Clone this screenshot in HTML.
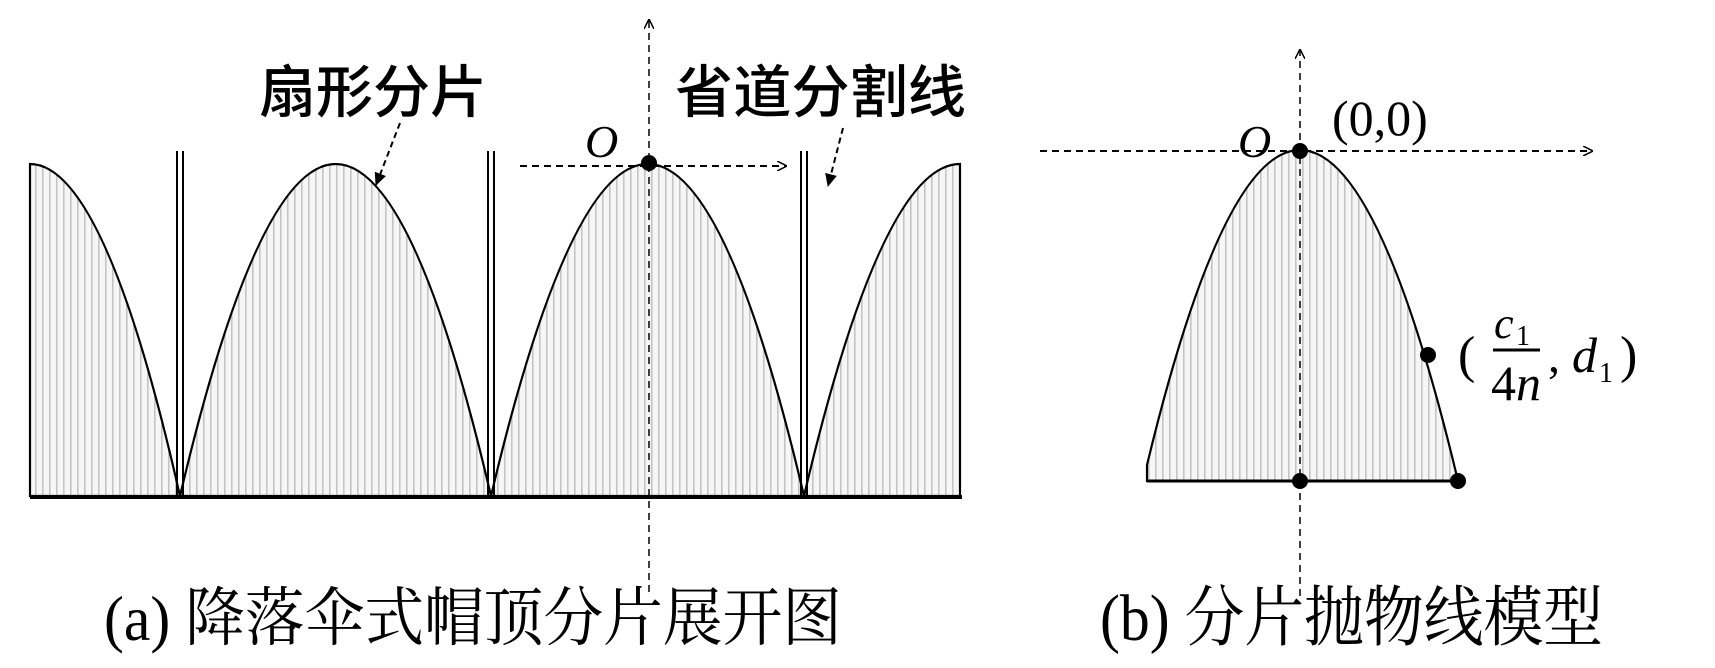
<!DOCTYPE html>
<html><head><meta charset="utf-8"><style>html,body{margin:0;padding:0;background:#fff}svg{display:block}</style></head>
<body>
<svg width="1715" height="668" viewBox="0 0 1715 668" xmlns="http://www.w3.org/2000/svg">
<defs>
<pattern id="h" width="7" height="10" patternUnits="userSpaceOnUse">
<rect width="7" height="10" fill="#f6f6f6"/>
<rect x="0" width="1.6" height="10" fill="#c4c4c4"/>
</pattern>
<marker id="ar" markerWidth="10" markerHeight="10" refX="9" refY="5" orient="auto" markerUnits="userSpaceOnUse"><path d="M0,0 L10,5 L0,10" fill="none" stroke="#000" stroke-width="1.5"/></marker>
<marker id="af" markerWidth="14" markerHeight="14" refX="12" refY="7" orient="auto" markerUnits="userSpaceOnUse"><path d="M0,1 L13,7 L0,13 Z" fill="#000"/></marker>
</defs>
<g stroke="#000" stroke-width="2.2" fill="url(#h)">
<path d="M30,496 L30,164 Q105,164 180,496 Z"/>
<path d="M180,496 Q336,-168 491,496 Z"/>
<path d="M491,496 Q648,-168 804,496 Z"/>
<path d="M804,496 Q882,164 960,164 L960,496 Z"/>
</g>
<line x1="30" y1="497" x2="962" y2="497" stroke="#000" stroke-width="4"/>
<g stroke="#000" stroke-width="2">
<line x1="177" y1="151" x2="177" y2="496"/><line x1="183" y1="151" x2="183" y2="496"/>
<line x1="488" y1="151" x2="488" y2="496"/><line x1="494" y1="151" x2="494" y2="496"/>
<line x1="801" y1="151" x2="801" y2="496"/><line x1="807" y1="151" x2="807" y2="496"/>
</g>
<line x1="649" y1="592" x2="649" y2="20" stroke="#000" stroke-width="1.5" stroke-dasharray="7,5" marker-end="url(#ar)"/>
<line x1="520" y1="166" x2="786" y2="166" stroke="#000" stroke-width="2" stroke-dasharray="7,5" marker-end="url(#ar)"/>
<circle cx="649" cy="163" r="8" fill="#000"/>
<line x1="400" y1="123" x2="376" y2="185" stroke="#000" stroke-width="2" stroke-dasharray="6,4" marker-end="url(#af)"/>
<line x1="843" y1="128" x2="828" y2="186" stroke="#000" stroke-width="2" stroke-dasharray="6,4" marker-end="url(#af)"/>
<g font-family="'Liberation Serif','Noto Serif CJK SC',serif" fill="#000">
<text x="585" y="157" font-size="46" font-style="italic">O</text>
<text x="259" y="112" font-size="57" font-family="'Liberation Sans','Noto Sans CJK SC',sans-serif" font-weight="500" textLength="228" lengthAdjust="spacingAndGlyphs">扇形分片</text>
<text x="675" y="112" font-size="57" font-family="'Liberation Sans','Noto Sans CJK SC',sans-serif" font-weight="500" textLength="291" lengthAdjust="spacingAndGlyphs">省道分割线</text>
<text x="104" y="640" font-size="64" textLength="738" lengthAdjust="spacingAndGlyphs">(a) 降落伞式帽顶分片展开图</text>
<text x="1100" y="640" font-size="66" textLength="503" lengthAdjust="spacingAndGlyphs">(b) 分片抛物线模型</text>
</g>
<!-- panel b -->
<path d="M1147,481 L1147,465 Q1223,150 1300,150 Q1379,150 1458,481 Z" fill="url(#h)" stroke="#000" stroke-width="2.2"/>
<line x1="1147" y1="481" x2="1458" y2="481" stroke="#000" stroke-width="3"/>
<line x1="1300" y1="596" x2="1300" y2="50" stroke="#000" stroke-width="1.5" stroke-dasharray="7,5" marker-end="url(#ar)"/>
<line x1="1040" y1="151" x2="1592" y2="151" stroke="#000" stroke-width="2" stroke-dasharray="7,5" marker-end="url(#ar)"/>
<circle cx="1300" cy="151" r="8" fill="#000"/>
<circle cx="1300" cy="481" r="8" fill="#000"/>
<circle cx="1458" cy="481" r="8" fill="#000"/>
<circle cx="1428" cy="355" r="8" fill="#000"/>
<g font-family="'Liberation Serif',serif" fill="#000">
<text x="1238" y="157" font-size="46" font-style="italic">O</text>
<text x="1332" y="135" font-size="50">(0,0)</text>
<text x="1458" y="372" font-size="52">(</text>
<text x="1494" y="338" font-size="44" font-style="italic">c</text>
<text x="1516" y="345" font-size="28">1</text>
<line x1="1493" y1="350" x2="1540" y2="350" stroke="#000" stroke-width="3"/>
<text x="1491" y="400" font-size="50">4<tspan font-style="italic">n</tspan></text>
<text x="1548" y="372" font-size="48">,</text>
<text x="1572" y="372" font-size="50" font-style="italic">d</text>
<text x="1599" y="382" font-size="28">1</text>
<text x="1620" y="372" font-size="52">)</text>
</g>
</svg>
</body></html>
